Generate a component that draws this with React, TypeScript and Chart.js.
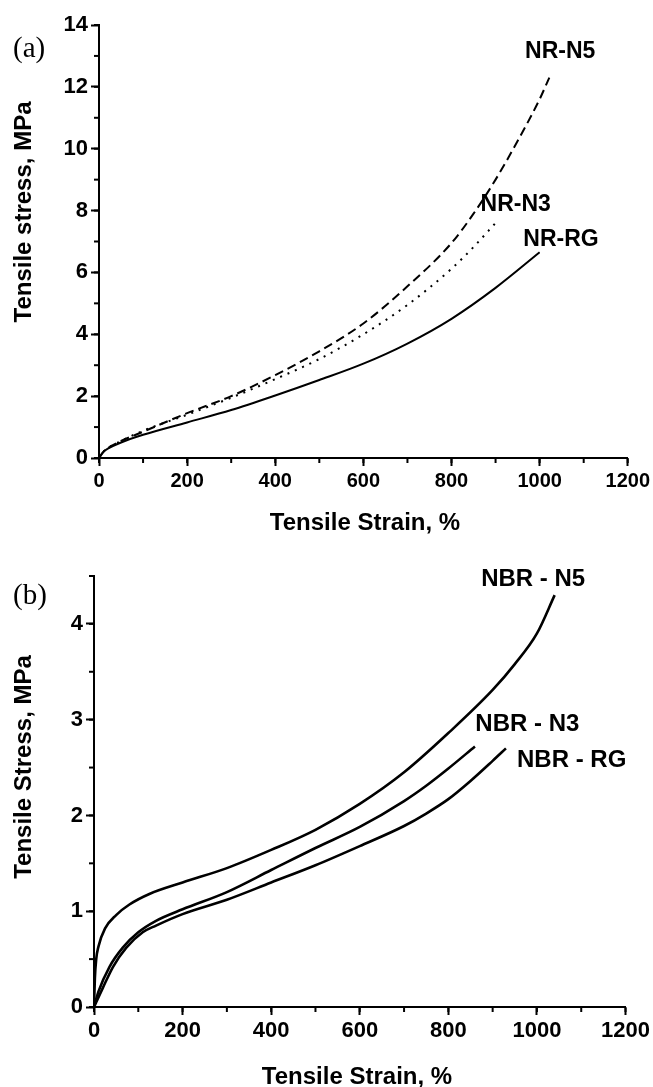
import React, { useEffect, useRef } from "react";
import { Chart, registerables } from "chart.js";

Chart.register(...registerables);

// ---------- Panel (a): NR compounds ----------
const nrLabels = ["NR-N5", "NR-N3", "NR-RG"];
const nrN5Strain = [0, 10, 20, 50, 100, 200, 300, 400, 500, 600, 700, 800, 850, 900, 950, 1000, 1022];
const nrN5Stress = [0, 0.2, 0.32, 0.55, 0.85, 1.45, 2.0, 2.68, 3.45, 4.35, 5.55, 6.95, 7.9, 9.0, 10.25, 11.6, 12.3];
const nrN3Strain = [0, 10, 20, 50, 100, 200, 300, 400, 500, 600, 700, 800, 850, 900];
const nrN3Stress = [0, 0.2, 0.32, 0.55, 0.88, 1.4, 1.95, 2.55, 3.2, 4.0, 4.95, 6.12, 6.82, 7.6];
const nrRGStrain = [0, 10, 20, 50, 100, 200, 300, 400, 500, 600, 700, 800, 900, 1000];
const nrRGStress = [0, 0.2, 0.3, 0.5, 0.75, 1.15, 1.55, 2.02, 2.52, 3.05, 3.7, 4.5, 5.5, 6.65];

// ---------- Panel (b): NBR compounds ----------
const nbrLabels = ["NBR - N5", "NBR - N3", "NBR - RG"];
const nbrN5Strain = [0, 2, 5, 10, 25, 50, 80, 125, 200, 300, 400, 500, 600, 700, 800, 900, 950, 1000, 1040];
const nbrN5Stress = [0, 0.3, 0.5, 0.63, 0.82, 0.96, 1.07, 1.18, 1.3, 1.45, 1.64, 1.85, 2.12, 2.45, 2.86, 3.31, 3.58, 3.9, 4.3];
const nbrN3Strain = [0, 10, 35, 65, 100, 140, 200, 300, 400, 500, 600, 700, 750, 800, 860];
const nbrN3Stress = [0, 0.16, 0.42, 0.62, 0.78, 0.9, 1.02, 1.2, 1.43, 1.66, 1.88, 2.15, 2.31, 2.49, 2.72];
const nbrRGStrain = [0, 5, 20, 43, 73, 110, 140, 200, 300, 400, 500, 600, 700, 750, 800, 850, 900, 930];
const nbrRGStress = [0, 0.05, 0.2, 0.42, 0.62, 0.78, 0.85, 0.97, 1.12, 1.3, 1.48, 1.68, 1.89, 2.02, 2.17, 2.36, 2.57, 2.7];

// axis texts
const xTitle = "Tensile Strain, %";
const yTitleA = "Tensile stress, MPa";
const yTitleB = "Tensile Stress, MPa";
const panelA = "(a)";
const panelB = "(b)";

const SANS = "'Liberation Sans', Arial, Helvetica, sans-serif";
const SERIF = "'Liberation Serif', 'Times New Roman', serif";

const pts = (xs: number[], ys: number[]) => xs.map((x, i) => ({ x, y: ys[i] }));

const textPlugin = {
  id: "texts",
  afterDraw(chart: any, _args: any, opts: any) {
    const ctx = chart.ctx;
    for (const it of opts.items || []) {
      ctx.save();
      ctx.font = it.font;
      ctx.fillStyle = "#000";
      let x = it.x;
      let y = it.y;
      if (it.data) {
        x = chart.scales.x.getPixelForValue(it.x);
        y = chart.scales.y.getPixelForValue(it.y);
      }
      ctx.translate(x, y);
      if (it.rotate) ctx.rotate(it.rotate);
      ctx.textAlign = it.align || "left";
      ctx.textBaseline = it.baseline || "alphabetic";
      ctx.fillText(it.text, 0, 0);
      ctx.restore();
    }
  },
};

const minorPlugin = {
  id: "minorTicks",
  afterDraw(chart: any, _args: any, opts: any) {
    const ctx = chart.ctx;
    const area = chart.chartArea;
    const len = opts.length || 5;
    ctx.save();
    ctx.strokeStyle = "#000";
    ctx.lineWidth = 2;
    const xs = chart.scales.x;
    for (let v = xs.min; v <= xs.max + 1e-9; v += opts.x) {
      const p = xs.getPixelForValue(v);
      ctx.beginPath();
      ctx.moveTo(p, area.bottom);
      ctx.lineTo(p, area.bottom + len);
      ctx.stroke();
    }
    const ys = chart.scales.y;
    for (let v = ys.min; v <= ys.max + 1e-9; v += opts.y) {
      const p = ys.getPixelForValue(v);
      ctx.beginPath();
      ctx.moveTo(area.left, p);
      ctx.lineTo(area.left - len, p);
      ctx.stroke();
    }
    ctx.restore();
  },
};

function axisCommon(fontSize: number) {
  return {
    grid: {
      display: true,
      drawOnChartArea: false,
      drawTicks: true,
      tickLength: 8,
      tickWidth: 2,
      tickColor: "#000",
    },
    border: { display: true, color: "#000", width: 2 },
    ticks: {
      color: "#000",
      padding: 3,
      font: { family: SANS, size: fontSize, weight: "bold" as const },
      callback: (v: any) => String(v),
      includeBounds: false,
    },
  };
}

function makeConfig(p: any) {
  const xc = axisCommon(p.xTickSize);
  const yc = axisCommon(p.yTickSize);
  return {
    type: "line" as const,
    data: { datasets: p.datasets },
    plugins: [textPlugin, minorPlugin],
    options: {
      animation: false as const,
      responsive: false,
      devicePixelRatio: 1,
      events: [],
      layout: { padding: p.padding },
      elements: { point: { radius: 0 } },
      scales: {
        x: {
          type: "linear" as const,
          min: 0,
          max: 1200,
          ...xc,
          ticks: { ...xc.ticks, stepSize: 200, maxRotation: 0 },
          afterFit: (s: any) => {
            s.height = p.xHeight;
          },
        },
        y: {
          type: "linear" as const,
          min: 0,
          max: p.yMax,
          ...yc,
          ticks: { ...yc.ticks, stepSize: p.yStep },
          afterFit: (s: any) => {
            s.width = p.yWidth;
          },
        },
      },
      plugins: {
        legend: { display: false },
        tooltip: { enabled: false },
        texts: { items: p.texts },
        minorTicks: { x: 100, y: p.yMinor, length: 5 },
      },
    },
  };
}

function line(data: any, width: number, dash: number[]) {
  return {
    data,
    borderColor: "#000",
    borderWidth: width,
    borderDash: dash,
    borderCapStyle: "butt",
    fill: false,
    cubicInterpolationMode: "monotone",
    pointRadius: 0,
  };
}

export default function App() {
  const refA = useRef<HTMLCanvasElement>(null);
  const refB = useRef<HTMLCanvasElement>(null);

  useEffect(() => {
    const labelFontA = `bold 23px ${SANS}`;
    const labelFontB = `bold 24px ${SANS}`;
    const titleFont = `bold 24px ${SANS}`;
    const panelFont = `29px ${SERIF}`;

    const cfgA = makeConfig({
      datasets: [
        line(pts(nrN5Strain, nrN5Stress), 2, [9, 5]),
        line(pts(nrN3Strain, nrN3Stress), 2, [2, 6]),
        line(pts(nrRGStrain, nrRGStress), 2, []),
      ],
      padding: { top: 25, right: 23, left: 0, bottom: 0 },
      xHeight: 87,
      yWidth: 99,
      yMax: 14,
      yStep: 2,
      yMinor: 1,
      xTickSize: 20,
      yTickSize: 22,
      texts: [
        { text: nrLabels[0], data: true, x: 967, y: 13.13, font: labelFontA, baseline: "middle" },
        { text: nrLabels[1], data: true, x: 866, y: 8.18, font: labelFontA, baseline: "middle" },
        { text: nrLabels[2], data: true, x: 963, y: 7.05, font: labelFontA, baseline: "middle" },
        { text: xTitle, x: 365, y: 530, font: titleFont, align: "center" },
        { text: yTitleA, x: 31, y: 212, font: titleFont, align: "center", rotate: -Math.PI / 2 },
        { text: panelA, x: 13, y: 57, font: panelFont },
      ],
    });

    const cfgB = makeConfig({
      datasets: [
        line(pts(nbrN5Strain, nbrN5Stress), 2.6, []),
        line(pts(nbrN3Strain, nbrN3Stress), 2.6, []),
        line(pts(nbrRGStrain, nbrRGStress), 2.6, []),
      ],
      padding: { top: 31, right: 25, left: 0, bottom: 0 },
      xHeight: 80,
      yWidth: 94,
      yMax: 4.5,
      yStep: 1,
      yMinor: 0.5,
      xTickSize: 22,
      yTickSize: 22,
      texts: [
        { text: nbrLabels[0], data: true, x: 874, y: 4.46, font: labelFontB, baseline: "middle" },
        { text: nbrLabels[1], data: true, x: 861, y: 2.95, font: labelFontB, baseline: "middle" },
        { text: nbrLabels[2], data: true, x: 955, y: 2.57, font: labelFontB, baseline: "middle" },
        { text: xTitle, x: 357, y: 539, font: titleFont, align: "center" },
        { text: yTitleB, x: 31, y: 222, font: titleFont, align: "center", rotate: -Math.PI / 2 },
        { text: panelB, x: 13, y: 59, font: panelFont },
      ],
    });

    const a = new Chart(refA.current as HTMLCanvasElement, cfgA as any);
    const b = new Chart(refB.current as HTMLCanvasElement, cfgB as any);
    return () => {
      a.destroy();
      b.destroy();
    };
  }, []);

  return (
    <div style={{ position: "absolute", left: 0, top: 0, width: 653, height: 1087, background: "#fff" }}>
      <canvas
        ref={refA}
        width={653}
        height={545}
        style={{ position: "absolute", left: 0, top: 0, width: 653, height: 545 }}
      />
      <canvas
        ref={refB}
        width={653}
        height={542}
        style={{ position: "absolute", left: 0, top: 545, width: 653, height: 542 }}
      />
    </div>
  );
}
